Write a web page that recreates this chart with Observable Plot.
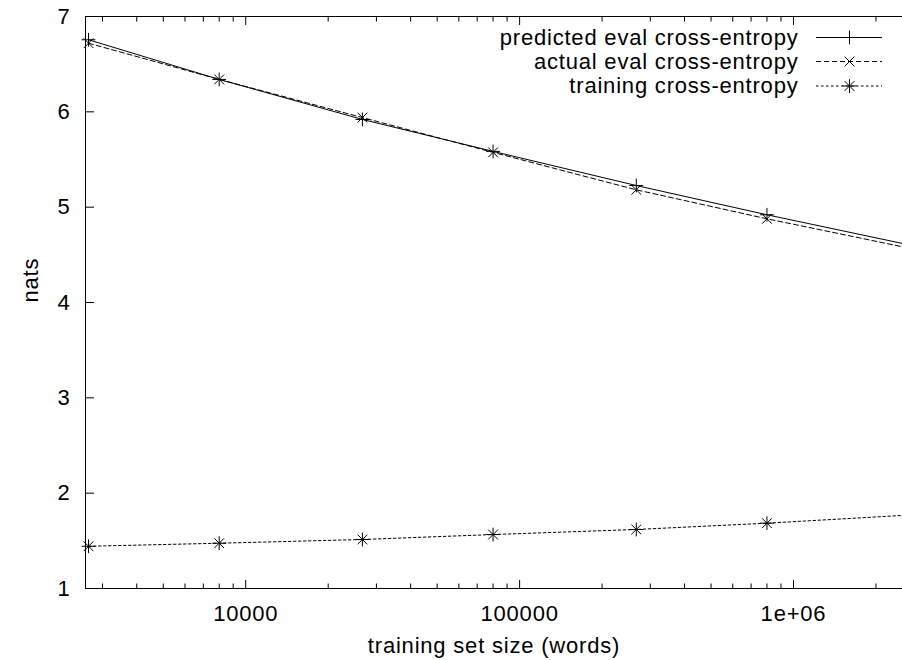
<!DOCTYPE html>
<html>
<head>
<meta charset="utf-8">
<script src="https://cdn.jsdelivr.net/npm/d3@7"></script>
<script src="https://cdn.jsdelivr.net/npm/@observablehq/plot@0.6"></script>
<style>
  body { margin: 0; background: #fff; }
  #chart svg { display: block; }
</style>
</head>
<body>
<div id="chart"></div>
<script>
// Training set sizes (words) and cross-entropies (nats)
const trainingSizes = [2667, 8000, 26667, 80000, 266667, 800000, 2666667];
const predictedEval = [6.756, 6.34, 5.92, 5.585, 5.227, 4.920, 4.602];
const actualEval    = [6.72, 6.34, 5.94, 5.575, 5.182, 4.878, 4.568];
const trainingCE    = [1.443, 1.475, 1.514, 1.566, 1.619, 1.685, 1.771];

const seriesNames = ["predicted eval cross-entropy", "actual eval cross-entropy", "training cross-entropy"];

const xMajorTicks = [10000, 100000, 1000000];
const xMajorLabels = ["10000", "100000", "1e+06"];
const xMinorTicks = [3000, 4000, 5000, 6000, 7000, 8000, 9000,
                     20000, 30000, 40000, 50000, 60000, 70000, 80000, 90000,
                     200000, 300000, 400000, 500000, 600000, 700000, 800000, 900000,
                     2000000];
const yTicks = [1, 2, 3, 4, 5, 6, 7];

const xDomain = [2600, 2500000];
const yDomain = [1, 7];

const width = 902, height = 660;
const marginLeft = 85, marginTop = 16, marginRight = 0, marginBottom = 72;

const series = [
  {name: seriesNames[0], values: predictedEval, symbols: ["plus"], dash: null},
  {name: seriesNames[1], values: actualEval, symbols: ["times"], dash: "5,3"},
  {name: seriesNames[2], values: trainingCE, symbols: ["plus", "times"], dash: "2.5,2.5"}
];

const legendDy = [21, 45, 69.5];
const ink = "#000";

const marks = [];

// plot border: top, bottom, left
marks.push(Plot.ruleY(yDomain, {stroke: ink, strokeWidth: 1}));
marks.push(Plot.ruleX([xDomain[0]], {stroke: ink, strokeWidth: 1}));

// inward tick marks
marks.push(Plot.axisY(yTicks, {anchor: "left", tickSize: -9, tickFormat: () => "", label: null, stroke: ink}));
marks.push(Plot.axisX(xMajorTicks, {anchor: "bottom", tickSize: -8, tickFormat: () => "", label: null, stroke: ink}));
marks.push(Plot.axisX(xMinorTicks, {anchor: "bottom", tickSize: -4.5, tickFormat: () => "", label: null, stroke: ink}));
marks.push(Plot.axisX(xMajorTicks, {anchor: "top", tickSize: -8, tickFormat: () => "", label: null, stroke: ink}));
marks.push(Plot.axisX(xMinorTicks, {anchor: "top", tickSize: -4.5, tickFormat: () => "", label: null, stroke: ink}));

// tick labels
marks.push(Plot.axisY(yTicks, {anchor: "left", tickSize: 0, tickPadding: 15, label: null, fill: ink, tickFormat: d => String(d)}));
marks.push(Plot.axisX(xMajorTicks, {anchor: "bottom", tickSize: 0, tickPadding: 17, label: null, fill: ink,
  tickFormat: d => xMajorLabels[xMajorTicks.indexOf(d)]}));

// axis titles
marks.push(Plot.text(["training set size (words)"], {text: d => d, frameAnchor: "bottom", dy: 64, lineAnchor: "bottom", fill: ink}));
marks.push(Plot.text(["nats"], {text: d => d, frameAnchor: "left", dx: -48, rotate: -90, lineAnchor: "bottom", fill: ink}));

// series lines and point markers
series.forEach((s, i) => {
  const data = trainingSizes.map((x, j) => ({x, y: s.values[j]}));
  marks.push(Plot.line(data, {x: "x", y: "y", stroke: ink, strokeWidth: 1, strokeDasharray: s.dash, clip: true}));
  s.symbols.forEach(sym => {
    marks.push(Plot.dot(data, {x: "x", y: "y", symbol: sym, r: 4.5, stroke: ink, strokeWidth: 1,
      filter: d => d.x <= xDomain[1]}));
  });

  // legend row, anchored at the top-right corner of the frame
  marks.push(Plot.text([s.name], {text: d => d, frameAnchor: "top-right", dx: -104, dy: legendDy[i],
    textAnchor: "end", lineAnchor: "middle", fill: ink}));
  marks.push(Plot.ruleY([yDomain[1]], {dy: legendDy[i], insetLeft: width - marginRight - 86 - marginLeft, insetRight: 20,
    stroke: ink, strokeWidth: 1, strokeDasharray: s.dash}));
  s.symbols.forEach(sym => {
    marks.push(Plot.dot([0], {x: () => xDomain[1], y: () => yDomain[1], dx: -53, dy: legendDy[i],
      symbol: sym, r: 4.5, stroke: ink, strokeWidth: 1}));
  });
});

const chart = Plot.plot({
  width, height, marginLeft, marginTop, marginRight, marginBottom,
  style: {fontFamily: "'Liberation Sans', Arial, sans-serif", fontSize: "22px", letterSpacing: "0.8px", color: ink, background: "#fff"},
  x: {type: "log", domain: xDomain},
  y: {type: "linear", domain: yDomain},
  marks
});

document.getElementById("chart").appendChild(chart);
</script>
</body>
</html>
